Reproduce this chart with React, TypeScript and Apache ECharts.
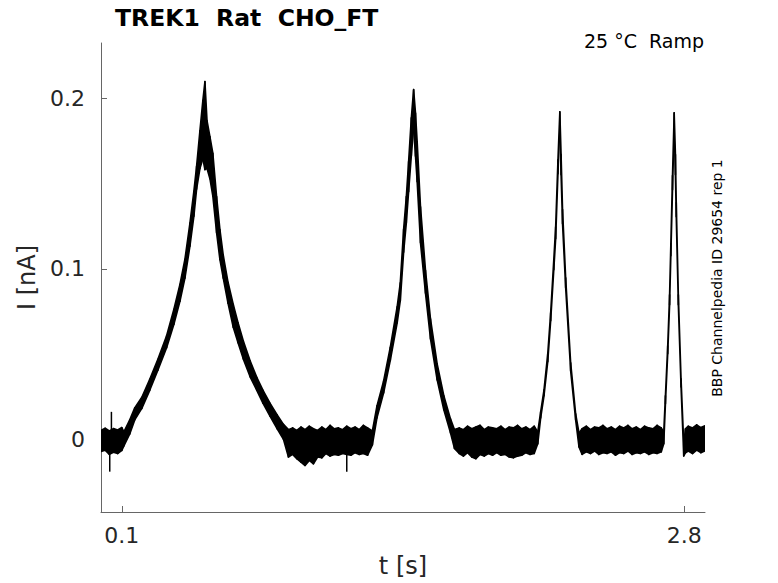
import React, { useEffect, useRef } from "react";
import * as echarts from "echarts";

// ---- Data (time in s, current in nA) ----
// Noise envelope of the recorded trace: lower and upper edge at each time
const tS = [
  0.0, 0.02, 0.04, 0.06, 0.08, 0.1,
  0.11, 0.138, 0.162, 0.196, 0.234, 0.273, 0.315, 0.35, 0.379, 0.403, 0.427, 0.446, 0.459, 0.475, 0.489, 0.499,
  0.509, 0.523, 0.537, 0.555, 0.571, 0.587, 0.61, 0.635, 0.658, 0.683, 0.716, 0.748, 0.778, 0.812, 0.846, 0.876,
  0.9, 0.92, 0.94, 0.96, 0.98, 1.0, 1.02, 1.04, 1.06, 1.08, 1.1, 1.12, 1.14, 1.16, 1.18, 1.2, 1.22, 1.24, 1.26, 1.28,
  1.303, 1.325, 1.357, 1.389, 1.422, 1.437, 1.453, 1.466, 1.477, 1.49, 1.501,
  1.51, 1.518, 1.534, 1.558, 1.582, 1.614, 1.646, 1.678, 1.697,
  1.72, 1.74, 1.76, 1.78, 1.8, 1.82, 1.84, 1.86, 1.88, 1.9, 1.92, 1.94, 1.96, 1.98, 2.0, 2.02, 2.04, 2.06, 2.08,
  2.097, 2.111, 2.127, 2.145, 2.159, 2.174, 2.183, 2.194, 2.203,
  2.209, 2.216, 2.231, 2.255, 2.279, 2.295,
  2.31, 2.33, 2.35, 2.37, 2.39, 2.41, 2.43, 2.45, 2.47, 2.49, 2.51, 2.53, 2.55, 2.57, 2.59, 2.61, 2.63, 2.65, 2.67, 2.69,
  2.702, 2.71, 2.721, 2.73, 2.736, 2.744, 2.752,
  2.758, 2.762, 2.772, 2.785, 2.798,
  2.806, 2.82, 2.84, 2.86, 2.88, 2.9,
];
const loNA = [
  -0.0068, -0.006, -0.0085, -0.0072, -0.008, -0.0062,
  -0.0035, 0.0035, 0.0117, 0.0184, 0.029, 0.0407, 0.0539, 0.0676, 0.0811, 0.0946, 0.1133, 0.1309, 0.1467, 0.1587, 0.1645, 0.1581,
  0.1587, 0.1528, 0.1426, 0.1212, 0.1054, 0.0946, 0.0799, 0.0659, 0.0568, 0.0474, 0.0369, 0.029, 0.0214, 0.0138, 0.0064, 0.0003,
  -0.01, -0.0085, -0.011, -0.013, -0.015, -0.012, -0.014, -0.01, -0.0105, -0.008, -0.0095, -0.0085, -0.009, -0.008, -0.0085, -0.009, -0.0075, -0.0085, -0.008, -0.009,
  -0.0029, 0.0129, 0.0275, 0.0465, 0.0685, 0.0814, 0.1098, 0.127, 0.1452, 0.1663, 0.1827,
  0.166, 0.1511, 0.1153, 0.0858, 0.0591, 0.0351, 0.0176, 0.0041, -0.005,
  -0.008, -0.0095, -0.0075, -0.01, -0.011, -0.0085, -0.0095, -0.008, -0.009, -0.0075, -0.009, -0.0085, -0.01, -0.0105, -0.0095, -0.009, -0.0075, -0.0085, -0.008,
  -0.0023, 0.0129, 0.0258, 0.0457, 0.0697, 0.0995, 0.1177, 0.1557, 0.1844,
  0.1551, 0.1265, 0.089, 0.0404, 0.0117, -0.0041,
  -0.0085, -0.007, -0.008, -0.0065, -0.0085, -0.0075, -0.008, -0.007, -0.009, -0.0075, -0.008, -0.0065, -0.0085, -0.0075, -0.008, -0.007, -0.0085, -0.0075, -0.008, -0.007,
  -0.0023, 0.0211, 0.0504, 0.079, 0.1077, 0.1464, 0.1827,
  0.1551, 0.1306, 0.079, 0.031, -0.0094,
  -0.0076, -0.0065, -0.008, -0.006, -0.0075, -0.0065,
];
const hiNA = [
  0.0055, 0.0068, 0.0052, 0.0066, 0.0058, 0.0072,
  0.0047, 0.0117, 0.0187, 0.0249, 0.0354, 0.0471, 0.0609, 0.0764, 0.091, 0.1057, 0.1268, 0.1455, 0.1601, 0.1809, 0.1985, 0.2096,
  0.1868, 0.1774, 0.1677, 0.1423, 0.123, 0.108, 0.0922, 0.0793, 0.0685, 0.058, 0.0463, 0.0366, 0.029, 0.0214, 0.0146, 0.0091,
  0.006, 0.007, 0.0055, 0.0075, 0.006, 0.008, 0.0065, 0.0055, 0.0075, 0.006, 0.0085, 0.0065, 0.007, 0.006, 0.008, 0.0065, 0.0075, 0.006, 0.0085, 0.007,
  0.0053, 0.0199, 0.0345, 0.0542, 0.0779, 0.0919, 0.1232, 0.1423, 0.1628, 0.1885, 0.2049,
  0.1912, 0.1745, 0.1364, 0.0992, 0.0708, 0.0445, 0.0258, 0.0123, 0.0061,
  0.007, 0.006, 0.008, 0.0065, 0.0075, 0.0085, 0.006, 0.0075, 0.007, 0.0065, 0.008, 0.006, 0.0075, 0.007, 0.0085, 0.0065, 0.0075, 0.006, 0.008,
  0.0047, 0.0164, 0.0293, 0.0504, 0.0744, 0.1054, 0.1247, 0.1639, 0.192,
  0.1669, 0.1347, 0.0948, 0.0451, 0.0152, 0.0041,
  0.0065, 0.008, 0.006, 0.0075, 0.007, 0.0085, 0.0065, 0.0075, 0.006, 0.008, 0.007, 0.0085, 0.0065, 0.0075, 0.006, 0.008, 0.007, 0.0065, 0.0085, 0.007,
  0.0047, 0.0258, 0.055, 0.0849, 0.1148, 0.1546, 0.1914,
  0.1669, 0.1388, 0.0849, 0.0357, -0.0023,
  0.0064, 0.008, 0.007, 0.0088, 0.0072, 0.0082,
];
// Isolated single-sample spikes
const spikeT = [0.042, 0.05, 1.18];
const spikeLo = [-0.0186, -0.004, -0.0187];
const spikeHi = [0.004, 0.0164, -0.005];

// Axis ticks
const xTicks = [0.1, 2.8];
const yTicks = [0, 0.1, 0.2];

const FONT = "DejaVu Sans";

export default function App() {
  const ref = useRef<HTMLDivElement>(null);

  useEffect(() => {
    if (!ref.current) return;
    const chart = echarts.init(ref.current, undefined, { renderer: "svg" });

    const bandData = tS.map((t, i) => [t, loNA[i], hiNA[i]]);
    const spikeData = spikeT.map((t, i) => [t, spikeLo[i], spikeHi[i]]);

    const option: any = {
      animation: false,
      backgroundColor: "#ffffff",
      grid: { left: 101, top: 43, width: 604, height: 469, containLabel: false },
      xAxis: {
        type: "value",
        min: 0,
        max: 2.9,
        name: "t [s]",
        nameLocation: "middle",
        nameGap: 42,
        nameTextStyle: { fontFamily: FONT, fontSize: 24, color: "#262626" },
        axisLine: { show: true, onZero: false, lineStyle: { color: "#666666", width: 1 } },
        axisTick: { show: true, inside: true, length: 6, customValues: xTicks, lineStyle: { color: "#666666" } },
        axisLabel: {
          show: true,
          customValues: xTicks,
          margin: 12,
          fontFamily: FONT,
          fontSize: 22,
          color: "#262626",
          formatter: (v: number) => String(v),
        },
        splitLine: { show: false },
      },
      yAxis: {
        type: "value",
        min: -0.0422,
        max: 0.2322,
        name: "I [nA]",
        nameLocation: "middle",
        nameGap: 62,
        nameTextStyle: { fontFamily: FONT, fontSize: 24, color: "#262626" },
        axisLine: { show: true, onZero: false, lineStyle: { color: "#666666", width: 1 } },
        axisTick: { show: true, inside: true, length: 6, customValues: yTicks, lineStyle: { color: "#666666" } },
        axisLabel: {
          show: true,
          customValues: yTicks,
          margin: 16,
          fontFamily: FONT,
          fontSize: 22,
          color: "#262626",
          formatter: (v: number) => (v === 0 ? "0" : String(v)),
        },
        splitLine: { show: false },
      },
      graphic: [
        {
          type: "text",
          x: 115,
          y: 18,
          style: {
            text: "TREK1  Rat  CHO_FT",
            fontFamily: FONT,
            fontWeight: "bold",
            fontSize: 23.5,
            fill: "#000000",
            align: "left",
            verticalAlign: "middle",
          },
        },
        {
          type: "text",
          x: 704,
          y: 41,
          style: {
            text: "25 °C  Ramp",
            fontFamily: FONT,
            fontSize: 19,
            fill: "#000000",
            align: "right",
            verticalAlign: "middle",
          },
        },
        {
          type: "text",
          x: 717,
          y: 278,
          rotation: Math.PI / 2,
          style: {
            text: "BBP Channelpedia ID 29654 rep 1",
            fontFamily: FONT,
            fontSize: 14,
            fill: "#000000",
            align: "center",
            verticalAlign: "middle",
          },
        },
      ],
      series: [
        {
          type: "custom",
          name: "trace",
          data: bandData,
          clip: true,
          silent: true,
          encode: { x: 0, y: [1, 2] },
          renderItem: (params: any, api: any) => {
            const i = params.dataIndex;
            if (i >= tS.length - 1) return { type: "group", children: [] };
            const a = api.coord([tS[i], loNA[i]]);
            const b = api.coord([tS[i], hiNA[i]]);
            const c = api.coord([tS[i + 1], hiNA[i + 1]]);
            const d = api.coord([tS[i + 1], loNA[i + 1]]);
            return {
              type: "polygon",
              shape: { points: [a, b, c, d] },
              style: { fill: "#000000", stroke: "#000000", lineWidth: 1.6, lineJoin: "round" },
            };
          },
        },
        {
          type: "custom",
          name: "spikes",
          data: spikeData,
          clip: true,
          silent: true,
          encode: { x: 0, y: [1, 2] },
          renderItem: (params: any, api: any) => {
            const i = params.dataIndex;
            const p = api.coord([spikeT[i], spikeLo[i]]);
            const q = api.coord([spikeT[i], spikeHi[i]]);
            return {
              type: "line",
              shape: { x1: p[0], y1: p[1], x2: q[0], y2: q[1] },
              style: { stroke: "#000000", lineWidth: 1.5 },
            };
          },
        },
      ],
    };

    chart.setOption(option);
    return () => {
      chart.dispose();
    };
  }, []);

  return (
    <div
      ref={ref}
      style={{ position: "fixed", left: 0, top: 0, width: 778, height: 583, background: "#ffffff" }}
    />
  );
}
